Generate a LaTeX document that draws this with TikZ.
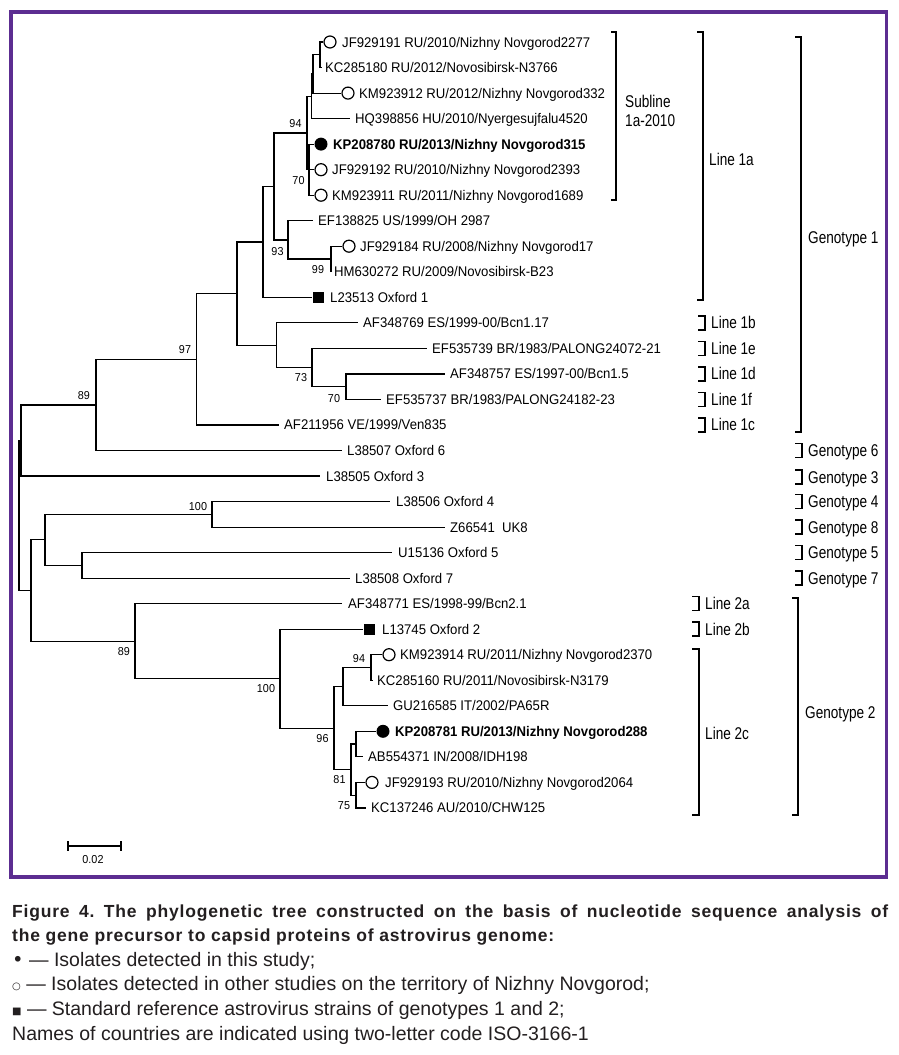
\documentclass[tikz,border=0pt]{standalone}
\usepackage{fontspec}
\setmainfont{Liberation Sans}
\newfontfamily\treefont[FakeStretch=0.94]{Liberation Sans}
\newfontfamily\groupfont[FakeStretch=0.8]{Liberation Sans}
\newfontfamily\capfont[LetterSpace=4.5]{Liberation Sans}
\newfontfamily\symfont{DejaVu Sans}
\definecolor{framepurple}{RGB}{92,45,145}
\definecolor{captext}{RGB}{35,31,32}
\frenchspacing

\tikzset{
  branch/.style={line width=1.2pt},
  bracket/.style={line width=1.5pt},
  leaf/.style={font=\treefont\fontsize{14}{14}\selectfont, anchor=west, inner sep=0pt, text height=10pt, text depth=0pt},
  boldleaf/.style={leaf, font=\treefont\bfseries\fontsize{14}{14}\selectfont},
  boot/.style={font=\treefont\fontsize{11.5}{11.5}\selectfont, inner sep=0pt},
  isolate/.style={circle, fill=black, minimum size=13pt, inner sep=0pt},
  nnisolate/.style={circle, draw=black, line width=1.2pt, minimum size=12pt, inner sep=0pt},
  refstrain/.style={rectangle, fill=black, minimum size=11pt, inner sep=0pt},
  grouplabel/.style={font=\groupfont\fontsize{17}{17}\selectfont, anchor=west, inner sep=0pt, text height=12pt, text depth=0pt},
  capline/.style={anchor=base west, inner sep=0pt, text=captext, font=\fontsize{19.5}{24}\selectfont},
}

\begin{document}
\begin{tikzpicture}[x=1pt, y=-1pt]
  \useasboundingbox (0,0) rectangle (898,1055);
  \fill[white] (0,0) rectangle (898,1055);
  \draw[framepurple, line width=3.5pt] (11,12) rectangle (886.5,877);

  % inner nodes of the tree
  \coordinate (root) at (19,515.4);
  \coordinate (upper) at (21,440.4);
  \coordinate (g1g6) at (96,404.9);
  \coordinate (g1) at (196.5,359.2);
  \coordinate (g1core) at (237,293.5);
  \coordinate (l1a) at (263,241.9);
  \coordinate (l1aCore) at (274,186.4);
  \coordinate (sub2010) at (307,133);
  \coordinate (sub2010a) at (311.5,96.3);
  \coordinate (sub2010b) at (313,73.9);
  \coordinate (sub2010c) at (320,54.75);
  \coordinate (nn315) at (309,169.65);
  \coordinate (l1aOH) at (288,239.9);
  \coordinate (l1aB23) at (331,259);
  \coordinate (l1rest) at (276.5,345.2);
  \coordinate (l1edf) at (312,367.5);
  \coordinate (l1df) at (346,386.7);
  \coordinate (lower) at (31,590.5);
  \coordinate (g48g57) at (45,539.8);
  \coordinate (g48) at (212,514.3);
  \coordinate (g57) at (82,565.4);
  \coordinate (g2) at (135,641.2);
  \coordinate (g2bc) at (280,678.6);
  \coordinate (l2c) at (334,728.1);
  \coordinate (l2cA) at (343,686.6);
  \coordinate (l2cN) at (371,667.5);
  \coordinate (l2cB) at (351,769.6);
  \coordinate (l2c288) at (356,744);
  \coordinate (l2c2064) at (356,795.1);

  % branch ends
  \coordinate (t1) at (322,67.5);
  \coordinate (t3) at (350,118.6);
  \coordinate (t7) at (313,220.7);
  \coordinate (t9) at (332,271.8);
  \coordinate (t11) at (358,322.8);
  \coordinate (t12) at (427,348.4);
  \coordinate (t13) at (445,373.9);
  \coordinate (t14) at (381,399.4);
  \coordinate (t15) at (279,424.9);
  \coordinate (t16) at (342,450.5);
  \coordinate (t17) at (320,476);
  \coordinate (t18) at (390,501.5);
  \coordinate (t19) at (445,527.1);
  \coordinate (t20) at (392,552.6);
  \coordinate (t21) at (350,578.1);
  \coordinate (t22) at (342,603.7);
  \coordinate (t25) at (373,680.2);
  \coordinate (t26) at (388,705.8);
  \coordinate (t28) at (363,756.8);
  \coordinate (t30) at (366,807.9);

  % markers
  \node[nnisolate] (m0) at (330,42) {};
  \node[nnisolate] (m2) at (348,93.1) {};
  \node[isolate] (m4) at (321,144.1) {};
  \node[nnisolate] (m5) at (321,169.7) {};
  \node[nnisolate] (m6) at (321,195.2) {};
  \node[nnisolate] (m8) at (349,246.2) {};
  \node[refstrain] (m10) at (318,297.3) {};
  \node[refstrain] (m23) at (369,629.2) {};
  \node[nnisolate] (m24) at (389,654.7) {};
  \node[isolate] (m27) at (383,731.3) {};
  \node[nnisolate] (m29) at (372,782.4) {};

  % isolates
  \node[leaf] (l0) at (342,42) {JF929191 RU/2010/Nizhny Novgorod2277};
  \node[leaf] (l1) at (325,67.5) {KC285180 RU/2012/Novosibirsk-N3766};
  \node[leaf] (l2) at (359,93.1) {KM923912 RU/2012/Nizhny Novgorod332};
  \node[leaf] (l3) at (355,118.6) {HQ398856 HU/2010/Nyergesujfalu4520};
  \node[boldleaf] (l4) at (333,144.1) {KP208780 RU/2013/Nizhny Novgorod315};
  \node[leaf] (l5) at (332,169.7) {JF929192 RU/2010/Nizhny Novgorod2393};
  \node[leaf] (l6) at (332,195.2) {KM923911 RU/2011/Nizhny Novgorod1689};
  \node[leaf] (l7) at (318,220.7) {EF138825 US/1999/OH 2987};
  \node[leaf] (l8) at (360,246.2) {JF929184 RU/2008/Nizhny Novgorod17};
  \node[leaf] (l9) at (334,271.8) {HM630272 RU/2009/Novosibirsk-B23};
  \node[leaf] (l10) at (330,297.3) {L23513 Oxford 1};
  \node[leaf] (l11) at (363,322.8) {AF348769 ES/1999-00/Bcn1.17};
  \node[leaf] (l12) at (432,348.4) {EF535739 BR/1983/PALONG24072-21};
  \node[leaf] (l13) at (450,373.9) {AF348757 ES/1997-00/Bcn1.5};
  \node[leaf] (l14) at (386,399.4) {EF535737 BR/1983/PALONG24182-23};
  \node[leaf] (l15) at (284,424.9) {AF211956 VE/1999/Ven835};
  \node[leaf] (l16) at (347,450.5) {L38507 Oxford 6};
  \node[leaf] (l17) at (326,476) {L38505 Oxford 3};
  \node[leaf] (l18) at (396,501.5) {L38506 Oxford 4};
  \node[leaf] (l19) at (450,527.1) {Z66541~~UK8};
  \node[leaf] (l20) at (398,552.6) {U15136 Oxford 5};
  \node[leaf] (l21) at (355,578.1) {L38508 Oxford 7};
  \node[leaf] (l22) at (348,603.7) {AF348771 ES/1998-99/Bcn2.1};
  \node[leaf] (l23) at (382,629.2) {L13745 Oxford 2};
  \node[leaf] (l24) at (400,654.7) {KM923914 RU/2011/Nizhny Novgorod2370};
  \node[leaf] (l25) at (377,680.2) {KC285160 RU/2011/Novosibirsk-N3179};
  \node[leaf] (l26) at (393,705.8) {GU216585 IT/2002/PA65R};
  \node[boldleaf] (l27) at (395,731.3) {KP208781 RU/2013/Nizhny Novgorod288};
  \node[leaf] (l28) at (368,756.8) {AB554371 IN/2008/IDH198};
  \node[leaf] (l29) at (385,782.4) {JF929193 RU/2010/Nizhny Novgorod2064};
  \node[leaf] (l30) at (371,807.9) {KC137246 AU/2010/CHW125};

  % branches
  \draw[branch] (root) |- (upper) (root) |- (lower);
  \draw[branch] (upper) |- (g1g6) (upper) |- (t17);
  \draw[branch] (g1g6) |- (g1) (g1g6) |- (t16);
  \draw[branch] (g1) |- (g1core) (g1) |- (t15);
  \draw[branch] (g1core) |- (l1a) (g1core) |- (l1rest);
  \draw[branch] (l1a) |- (l1aCore) (l1a) |- (m10.west);
  \draw[branch] (l1aCore) |- (sub2010) (l1aCore) |- (l1aOH);
  \draw[branch] (sub2010) |- (sub2010a) (sub2010) |- (nn315);
  \draw[branch] (sub2010a) |- (sub2010b) (sub2010a) |- (t3);
  \draw[branch] (sub2010b) |- (sub2010c) (sub2010b) |- (m2.west);
  \draw[branch] (sub2010c) |- (m0.west) (sub2010c) |- (t1);
  \draw[branch] (nn315) |- (m4.west) (nn315) |- (m5.west) (nn315) |- (m6.west);
  \draw[branch] (l1aOH) |- (t7) (l1aOH) |- (l1aB23);
  \draw[branch] (l1aB23) |- (m8.west) (l1aB23) |- (t9);
  \draw[branch] (l1rest) |- (t11) (l1rest) |- (l1edf);
  \draw[branch] (l1edf) |- (t12) (l1edf) |- (l1df);
  \draw[branch] (l1df) |- (t13) (l1df) |- (t14);
  \draw[branch] (lower) |- (g48g57) (lower) |- (g2);
  \draw[branch] (g48g57) |- (g48) (g48g57) |- (g57);
  \draw[branch] (g48) |- (t18) (g48) |- (t19);
  \draw[branch] (g57) |- (t20) (g57) |- (t21);
  \draw[branch] (g2) |- (t22) (g2) |- (g2bc);
  \draw[branch] (g2bc) |- (m23.west) (g2bc) |- (l2c);
  \draw[branch] (l2c) |- (l2cA) (l2c) |- (l2cB);
  \draw[branch] (l2cA) |- (l2cN) (l2cA) |- (t26);
  \draw[branch] (l2cN) |- (m24.west) (l2cN) |- (t25);
  \draw[branch] (l2cB) |- (l2c288) (l2cB) |- (l2c2064);
  \draw[branch] (l2c288) |- (m27.west) (l2c288) |- (t28);
  \draw[branch] (l2c2064) |- (m29.west) (l2c2064) |- (t30);

  % bootstrap values
  \node[boot] (b94a) at (295.5,124) {94};
  \node[boot] (b70a) at (298.5,181) {70};
  \node[boot] (b93) at (277.5,251.7) {93};
  \node[boot] (b99) at (318,270) {99};
  \node[boot] (b97) at (185,350) {97};
  \node[boot] (b89a) at (84,396) {89};
  \node[boot] (b73) at (301,378) {73};
  \node[boot] (b70b) at (334,398.7) {70};
  \node[boot] (b100a) at (198,506.7) {100};
  \node[boot] (b89b) at (124,652) {89};
  \node[boot] (b100b) at (266,689) {100};
  \node[boot] (b94b) at (359,659) {94};
  \node[boot] (b96) at (322.5,739) {96};
  \node[boot] (b81) at (339.5,780) {81};
  \node[boot] (b75) at (344,806) {75};

  % scale bar
  \coordinate (sbl) at (68,846);
  \coordinate (sbr) at (121,846);
  \draw[branch] (sbl) -- (sbr);
  \draw[branch] ([yshift=5pt]sbl) -- ([yshift=-5pt]sbl);
  \draw[branch] ([yshift=5pt]sbr) -- ([yshift=-5pt]sbr);
  \node[boot] (sblabel) at (93,860) {0.02};

  % lines and genotypes
  \draw[bracket] (611,32) -- (616,32) -- (616,200) -- (611,200);
  \node[grouplabel] (sub1) at (625,101) {Subline};
  \node[grouplabel] (sub2) at (625,120) {1a-2010};
  \draw[bracket] (697,32) -- (703,32) -- (703,300) -- (697,300);
  \node[grouplabel] (line1a) at (709,159) {Line 1a};
  \draw[bracket] (795,37) -- (801,37) -- (801,432) -- (795,432);
  \node[grouplabel] (geno1) at (808,237) {Genotype 1};
  \draw[bracket] (698,315.8) -- (705,315.8) -- (705,329.8) -- (698,329.8);
  \node[grouplabel] (line1b) at (711,322.8) {Line 1b};
  \draw[bracket] (698,341.4) -- (705,341.4) -- (705,355.4) -- (698,355.4);
  \node[grouplabel] (line1e) at (711,348.4) {Line 1e};
  \draw[bracket] (698,366.9) -- (705,366.9) -- (705,380.9) -- (698,380.9);
  \node[grouplabel] (line1d) at (711,373.9) {Line 1d};
  \draw[bracket] (698,392.4) -- (705,392.4) -- (705,406.4) -- (698,406.4);
  \node[grouplabel] (line1f) at (711,399.4) {Line 1f};
  \draw[bracket] (698,417.9) -- (705,417.9) -- (705,431.9) -- (698,431.9);
  \node[grouplabel] (line1c) at (711,424.9) {Line 1c};
  \draw[bracket] (795,443.5) -- (802,443.5) -- (802,457.5) -- (795,457.5);
  \node[grouplabel] (geno6) at (808,450.5) {Genotype 6};
  \draw[bracket] (795,470) -- (802,470) -- (802,484) -- (795,484);
  \node[grouplabel] (geno3) at (808,477) {Genotype 3};
  \draw[bracket] (795,494.5) -- (802,494.5) -- (802,508.5) -- (795,508.5);
  \node[grouplabel] (geno4) at (808,501.5) {Genotype 4};
  \draw[bracket] (795,520.1) -- (802,520.1) -- (802,534.1) -- (795,534.1);
  \node[grouplabel] (geno8) at (808,527.1) {Genotype 8};
  \draw[bracket] (795,545.6) -- (802,545.6) -- (802,559.6) -- (795,559.6);
  \node[grouplabel] (geno5) at (808,552.6) {Genotype 5};
  \draw[bracket] (795,571.1) -- (802,571.1) -- (802,585.1) -- (795,585.1);
  \node[grouplabel] (geno7) at (808,578.1) {Genotype 7};
  \draw[bracket] (692,596.7) -- (699,596.7) -- (699,610.7) -- (692,610.7);
  \node[grouplabel] (line2a) at (705,603.7) {Line 2a};
  \draw[bracket] (692,622.2) -- (699,622.2) -- (699,636.2) -- (692,636.2);
  \node[grouplabel] (line2b) at (705,629.2) {Line 2b};
  \draw[bracket] (692,649) -- (699,649) -- (699,815) -- (692,815);
  \node[grouplabel] (line2c) at (705,733) {Line 2c};
  \draw[bracket] (792,598) -- (798,598) -- (798,815) -- (792,815);
  \node[grouplabel] (geno2) at (805,712) {Genotype 2};

  % caption
  \node[capline] (cap1) at (12,917) {\capfont\bfseries\fontsize{17.5}{20}\selectfont\makebox[876pt][s]{Figure 4. The phylogenetic tree constructed on the basis of nucleotide sequence analysis of}};
  \node[capline] (cap2) at (12,941.7) {\capfont\bfseries\fontsize{17.5}{20}\selectfont the gene precursor to capsid proteins of astrovirus genome:};
  \node[capline] (cap3) at (12,966.3) {{\symfont •} — Isolates detected in this study;};
  \node[capline] (cap4) at (12,990.8) {\raisebox{1.2pt}{\symfont\fontsize{10}{10}\selectfont ○} — Isolates detected in other studies on the territory of Nizhny Novgorod;};
  \node[capline] (cap5) at (12,1015.4) {\raisebox{1pt}{\symfont\fontsize{10}{10}\selectfont ■} — Standard reference astrovirus strains of genotypes 1 and 2;};
  \node[capline] (cap6) at (12,1040) {Names of countries are indicated using two-letter code ISO-3166-1};
\end{tikzpicture}
\end{document}
